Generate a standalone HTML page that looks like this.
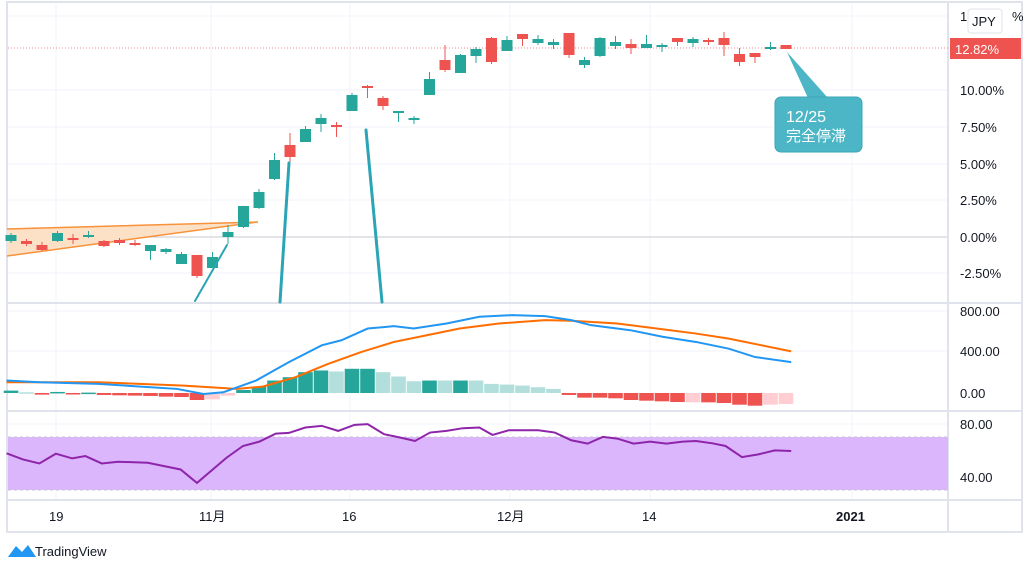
<!DOCTYPE html><html><head><meta charset="utf-8"><style>
body{margin:0;background:#fff;width:1024px;height:568px;overflow:hidden;font-family:"Liberation Sans","Noto Sans CJK JP",sans-serif}
svg text{font-family:"Liberation Sans","Noto Sans CJK JP",sans-serif}
</style></head><body>
<svg id="s" width="1024" height="568" xmlns="http://www.w3.org/2000/svg">
<rect x="7" y="2" width="1015" height="530" fill="#fff" stroke="#e0e3eb" stroke-width="2"/>
<g stroke="#f0f3fa" stroke-width="1">
<line x1="56" y1="3" x2="56" y2="500"/><line x1="211" y1="3" x2="211" y2="500"/><line x1="350" y1="3" x2="350" y2="500"/><line x1="510" y1="3" x2="510" y2="500"/><line x1="650" y1="3" x2="650" y2="500"/><line x1="852" y1="3" x2="852" y2="500"/>
<line x1="8" y1="16" x2="948" y2="16"/><line x1="8" y1="90" x2="948" y2="90"/><line x1="8" y1="127" x2="948" y2="127"/><line x1="8" y1="164" x2="948" y2="164"/><line x1="8" y1="200" x2="948" y2="200"/><line x1="8" y1="273" x2="948" y2="273"/>
<line x1="8" y1="311" x2="948" y2="311"/><line x1="8" y1="351" x2="948" y2="351"/><line x1="8" y1="424" x2="948" y2="424"/><line x1="8" y1="477" x2="948" y2="477"/>
</g>
<line x1="8" y1="237" x2="948" y2="237" stroke="#c8cad0" stroke-width="1"/>
<g stroke="#e0e3eb" stroke-width="2"><line x1="948" y1="2" x2="948" y2="532"/><line x1="8" y1="303" x2="1022" y2="303"/><line x1="8" y1="411" x2="1022" y2="411"/><line x1="8" y1="500" x2="1022" y2="500"/></g>
<line x1="8" y1="48" x2="948" y2="48" stroke="#f28b8b" stroke-width="1" stroke-dasharray="1,2"/>
<polygon points="7,229 258,222 7,256" fill="#fde1c7"/>
<polyline points="7,229 258,222 7,256" fill="none" stroke="#f7923a" stroke-width="1.5"/>
<g id="c"></g>
<g stroke="#2ba5b5" stroke-linecap="round"><line x1="195" y1="301" x2="227" y2="245" stroke-width="2"/><line x1="289" y1="163" x2="280" y2="302" stroke-width="3"/><line x1="366" y1="130" x2="382" y2="302" stroke-width="3"/></g>
<polygon points="787,52 808,98 828,98" fill="#4db6c6"/>
<rect x="775" y="97" width="87" height="55" rx="6" fill="#4db6c6" stroke="#3aa6b6"/>
<text x="786" y="122" fill="#fff" font-size="16">12/25</text>
<text x="786" y="141" fill="#fff" font-size="15">完全停滞</text>
<g font-size="13" fill="#131722">
<text x="960" y="21">1</text><text x="1012" y="21">%</text>
<text x="960" y="95">10.00%</text><text x="960" y="132">7.50%</text><text x="960" y="169">5.00%</text><text x="960" y="205">2.50%</text><text x="960" y="242">0.00%</text><text x="960" y="278">-2.50%</text>
<text x="960" y="316">800.00</text><text x="960" y="356">400.00</text><text x="960" y="398">0.00</text>
<text x="960" y="429">80.00</text><text x="960" y="482">40.00</text>
<text x="49" y="521">19</text><text x="199" y="521">11月</text><text x="342" y="521">16</text><text x="497" y="521">12月</text><text x="642" y="521">14</text><text x="836" y="521" font-weight="bold">2021</text>
</g>
<rect x="968" y="9" width="34" height="24" rx="3" fill="#fff" stroke="#e0e3eb"/>
<text x="972" y="26" font-size="13" fill="#131722">JPY</text>
<rect x="950" y="38" width="71" height="21" fill="#ef5350"/>
<text x="955" y="54" font-size="13" fill="#fff">12.82%</text>
<g id="h"></g>
<g transform="translate(0,300) scale(0.6566,0.3356)" fill="none" stroke-width="2">
<polyline vector-effect="non-scaling-stroke" stroke="#ff6d00" points="10,245 150,245 280,255 360,265 400,258 450,230 500,190 550,155 600,125 650,105 700,85 760,70 830,60 870,62 940,70 1000,85 1060,100 1110,115 1160,135 1205,153"/>
<polyline vector-effect="non-scaling-stroke" stroke="#2196f3" points="10,240 60,245 150,250 270,265 310,280 340,275 390,240 440,185 490,135 520,120 560,85 600,78 630,85 680,70 730,50 780,45 830,48 870,60 900,75 960,90 1010,110 1060,125 1110,145 1150,170 1205,185"/>
</g>
<rect x="8" y="437" width="940" height="53" fill="#dbb6fc"/>
<g stroke="#c9c0d8" stroke-dasharray="3,3"><line x1="8" y1="437" x2="948" y2="437"/><line x1="8" y1="490" x2="948" y2="490"/></g>
<g transform="translate(0,300) scale(0.6566,0.3356)" fill="none">
<polyline vector-effect="non-scaling-stroke" stroke="#8e24aa" stroke-width="2" points="10,457 35,475 60,487 85,458 110,472 130,465 155,487 180,482 225,485 250,495 275,505 300,545 345,470 370,435 395,422 420,398 440,396 465,380 490,375 515,390 540,372 560,370 585,400 610,410 632,420 655,395 680,390 705,382 730,380 750,402 775,388 820,388 845,395 870,418 895,428 918,408 940,413 965,428 990,422 1015,428 1040,422 1060,420 1085,427 1105,435 1130,468 1155,460 1180,448 1205,450"/>
</g>
<path d="M8,557 L16,546 L22,552 L28,545 L36,557 Z" fill="#2196f3"/>
<text x="35" y="556" font-size="13" fill="#131722">TradingView</text>
</svg>
<script>
var G="#26a69a",R="#ef5350";
var d=[[G,235,241,233,243],[R,241,244,239,246],[R,245,250,242,251],[G,233,241,231,242],[R,238,240,234,244],[G,235,237,231,238],[R,241,246,240,247],[R,240,243,238,245],[R,243,245,240,246],[G,245,251,245,260],[G,249,252,248,254],[G,254,264,252,264],[R,255,276,255,278],[G,257,268,252,268],[G,232,237,225,244],[G,206,227,206,228],[G,192,208,189,209],[G,160,179,153,180],[R,145,157,133,162],[G,129,142,126,142],[G,118,124,114,132],[R,125,127,122,137],[G,95,111,93,111],[R,86,88,85,98],[R,98,106,96,110],[G,111,113,111,122],[G,118,120,116,124],[G,79,95,72,95],[R,60,70,45,72],[G,55,73,54,73],[G,49,56,47,63],[R,38,62,37,64],[G,40,51,36,51],[R,34,39,34,46],[G,39,43,35,45],[G,42,45,39,49],[R,33,55,33,58],[G,60,65,57,68],[G,38,56,37,57],[G,42,46,36,49],[R,44,48,39,54],[G,44,48,35,48],[G,45,47,43,52],[R,38,42,38,46],[G,39,43,37,47],[R,40,42,38,45],[R,38,45,32,56],[R,54,62,48,66],[R,53,57,53,63],[G,47,49,42,50],[R,45,49,45,49]];
var s="";d.forEach(function(c,i){var x=11+15.5*i;s+='<line x1="'+x+'" y1="'+c[3]+'" x2="'+x+'" y2="'+c[4]+'" stroke="'+c[0]+'"/>';s+='<rect x="'+(x-5.5)+'" y="'+c[1]+'" width="11" height="'+Math.max(2,c[2]-c[1])+'" fill="'+c[0]+'"/>';});
document.getElementById("c").innerHTML=s;
var h=[[G,270],["#b2dfdb",275],[R,282],[G,274],[R,281],[G,276],[R,283],[R,284],[R,285],[R,286],[R,288],[R,289],[R,298],["#ffcdd2",296],["#ffcdd2",285],[G,268],[G,258],[G,240],[G,230],[G,215],[G,210],["#b2dfdb",213],[G,205],[G,205],["#b2dfdb",215],["#b2dfdb",228],["#b2dfdb",242],[G,240],["#b2dfdb",240],[G,240],["#b2dfdb",240],["#b2dfdb",250],["#b2dfdb",252],["#b2dfdb",255],["#b2dfdb",260],["#b2dfdb",265],[R,283],[R,291],[R,291],[R,293],[R,298],[R,300],[R,302],[R,304],["#ffcdd2",305],[R,305],[R,307],[R,312],[R,315],["#ffcdd2",312],["#ffcdd2",310]];
s="";h.forEach(function(b,i){var x=11+15.5*i,y=300+b[1]/2.98,z=393;var t=Math.min(y,z),hh=Math.max(1.5,Math.abs(y-z));s+='<rect x="'+(x-7.3)+'" y="'+t+'" width="14.6" height="'+hh+'" fill="'+b[0]+'"/>';});
document.getElementById("h").innerHTML=s;
</script>
</body></html>
